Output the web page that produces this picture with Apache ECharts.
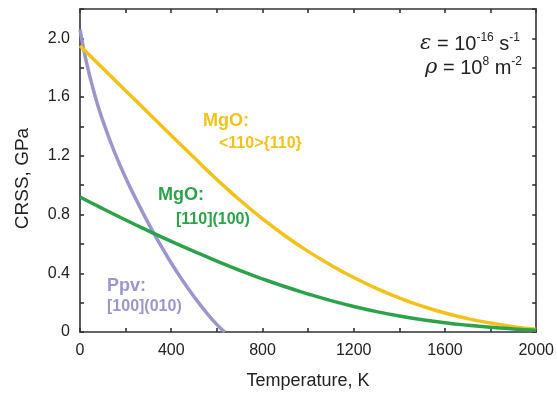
<!DOCTYPE html>
<html>
<head>
<meta charset="utf-8">
<script src="https://cdn.jsdelivr.net/npm/echarts@6/dist/echarts.min.js"></script>
<style>
  html, body { margin: 0; padding: 0; background: #fff; }
  #chart { width: 557px; height: 395px; }
</style>
</head>
<body>
<div id="chart"></div>
<script>
// temperature grid (K) for the two MgO curves
const tempsMgO = [0, 100, 200, 300, 400, 500, 600, 700, 800, 900, 1000,
  1100, 1200, 1300, 1400, 1500, 1600, 1700, 1800, 1900, 2000]
// MgO <110>{110}, GPa
const mgo110 = [1.95, 1.797, 1.644, 1.491, 1.339, 1.188, 1.039, 0.899, 0.771, 0.654, 0.549,
  0.455, 0.371, 0.297, 0.232, 0.176, 0.129, 0.091, 0.061, 0.036, 0.018]
// MgO [110](100), GPa
const mgo100 = [0.92, 0.84, 0.763, 0.689, 0.617, 0.549, 0.483, 0.42, 0.362, 0.308, 0.259,
  0.214, 0.174, 0.139, 0.109, 0.084, 0.063, 0.046, 0.032, 0.021, 0.012]
// post-perovskite [100](010)
const tempsPpv = [0, 25, 50, 75, 100, 150, 200, 250, 300, 350, 400, 450, 500, 550, 600, 635]
const ppv = [2.06, 1.86, 1.70, 1.56, 1.44, 1.23, 1.05, 0.89, 0.74, 0.60, 0.47, 0.35, 0.24, 0.14, 0.05, 0]

const xTicks = ['0', '400', '800', '1200', '1600', '2000']
const yTicks = ['0', '0.4', '0.8', '1.2', '1.6', '2.0']

const yellow = '#f2c21b'
const green = '#2ca24b'
const purple = '#9b97cc'
const axisColor = '#333'
const font = 'Liberation Sans, Arial, Helvetica, sans-serif'

const chart = echarts.init(document.getElementById('chart'), null, { renderer: 'canvas' })

const pairs = (xs, ys) => xs.map((x, i) => [x, ys[i]])

const baseAxis = {
  axisLine: { show: true, onZero: false, lineStyle: { color: axisColor, width: 1.6 } },
  axisTick: { show: true, inside: true, length: 4, lineStyle: { color: axisColor, width: 1.6 } },
  splitLine: { show: false },
}

const option = {
  animation: false,
  backgroundColor: '#fff',
  grid: { left: 80, right: 15.5, top: 9, bottom: 63 },
  xAxis: [
    {
      ...baseAxis,
      type: 'value', min: 0, max: 2000, interval: 200, position: 'bottom',
      name: 'Temperature, K', nameLocation: 'middle', nameGap: 40,
      nameTextStyle: { fontFamily: font, fontSize: 18, color: '#222' },
      axisLabel: {
        margin: 11, fontFamily: font, fontSize: 16, color: '#222',
        formatter: (v) => (xTicks.includes(String(v)) ? String(v) : ''),
      },
    },
    {
      ...baseAxis,
      type: 'value', min: 0, max: 2000, interval: 200, position: 'top',
      axisLabel: { show: false },
    },
  ],
  yAxis: [
    {
      ...baseAxis,
      type: 'value', min: 0, max: 2.2, interval: 0.2, position: 'left',
      name: 'CRSS, GPa', nameLocation: 'middle', nameGap: 48,
      nameTextStyle: { fontFamily: font, fontSize: 19, color: '#222', padding: [0, 16, 0, 0] },
      axisLabel: {
        margin: 10, fontFamily: font, fontSize: 16, color: '#222',
        formatter: (v) => {
          const s = v === 0 ? '0' : v.toFixed(1)
          return yTicks.includes(s) ? s : ''
        },
      },
    },
    {
      ...baseAxis,
      type: 'value', min: 0, max: 2.2, interval: 0.2, position: 'right',
      axisLabel: { show: false },
    },
  ],
  series: [
    {
      name: 'MgO <110>{110}', type: 'line', smooth: 0.5, showSymbol: false,
      data: pairs(tempsMgO, mgo110),
      lineStyle: { color: yellow, width: 3.5 }, z: 3,
    },
    {
      name: 'MgO [110](100)', type: 'line', smooth: 0.5, showSymbol: false,
      data: pairs(tempsMgO, mgo100),
      lineStyle: { color: green, width: 3.5 }, z: 4,
    },
    {
      name: 'Ppv [100](010)', type: 'line', smooth: 0.5, showSymbol: false,
      data: pairs(tempsPpv, ppv),
      lineStyle: { color: purple, width: 3.5 }, z: 2,
    },
  ],
  graphic: [
    { type: 'text', left: 203, top: 112, style: { text: 'MgO:', fill: yellow, font: `bold 18px ${font}` } },
    { type: 'text', left: 219, top: 136, style: { text: '<110>{110}', fill: yellow, font: `bold 16px ${font}` } },
    { type: 'text', left: 158, top: 186, style: { text: 'MgO:', fill: green, font: `bold 18px ${font}` } },
    { type: 'text', left: 176, top: 212, style: { text: '[110](100)', fill: green, font: `bold 16px ${font}` } },
    { type: 'text', left: 107, top: 277, style: { text: 'Ppv:', fill: purple, font: `bold 18px ${font}` } },
    { type: 'text', left: 107, top: 299, style: { text: '[100](010)', fill: purple, font: `bold 16px ${font}` } },
    {
      type: 'text', right: 37, top: 32,
      style: {
        text: '{i|ε} = 10{s|-16} s{s|-1}',
        fill: '#222', font: `20px ${font}`,
        rich: {
          i: { fontStyle: 'italic', fontSize: 21, fontFamily: 'DejaVu Serif', fill: '#222' },
          s: { fontSize: 12, verticalAlign: 'top', lineHeight: 24, fill: '#222' },
        },
      },
    },
    {
      type: 'text', right: 35, top: 56,
      style: {
        text: '{i|ρ} = 10{s|8} m{s|-2}',
        fill: '#222', font: `20px ${font}`,
        rich: {
          i: { fontStyle: 'italic', fontSize: 21, fontFamily: 'DejaVu Serif', fill: '#222' },
          s: { fontSize: 12, verticalAlign: 'top', lineHeight: 24, fill: '#222' },
        },
      },
    },
  ],
}

chart.setOption(option)
</script>
</body>
</html>
